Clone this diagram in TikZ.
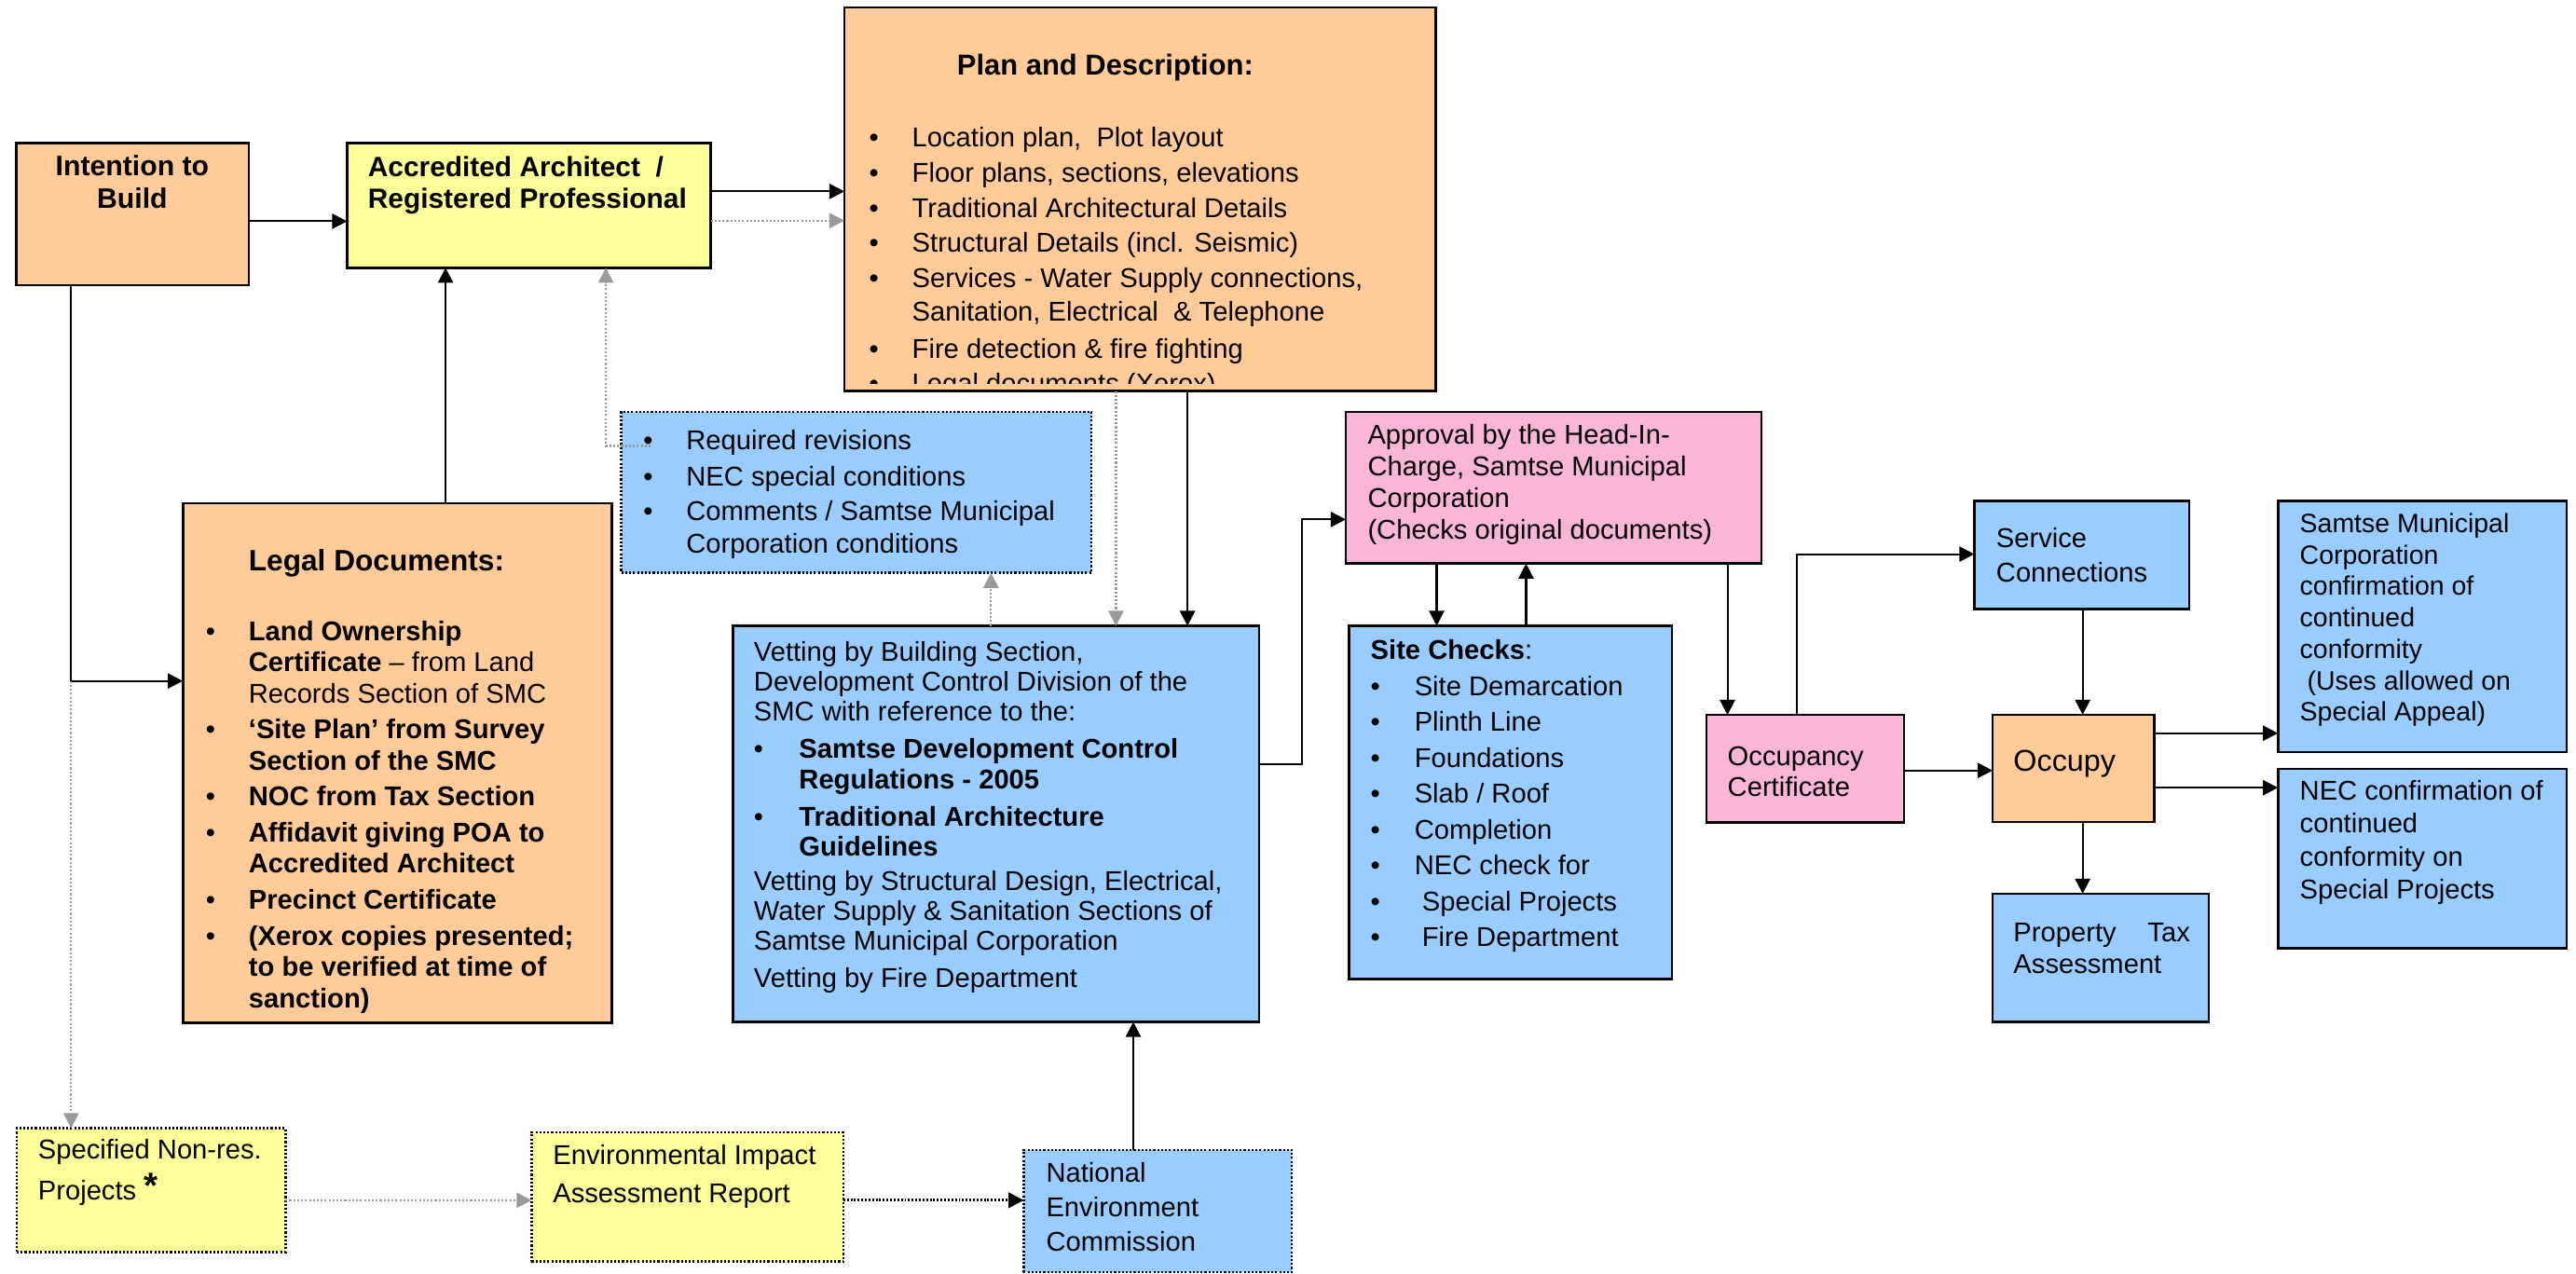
\documentclass[tikz,border=0pt]{standalone}
\usepackage{fontspec}
\setmainfont{Liberation Sans}
\usetikzlibrary{arrows.meta,fit}
\definecolor{orf}{HTML}{FFCC99}
\definecolor{yef}{HTML}{FFFF99}
\definecolor{blf}{HTML}{99CCFF}
\definecolor{pkf}{RGB}{250,182,216}
\definecolor{grl}{HTML}{9A9A9A}
\newlength\bw
\newcommand\tlines[2]{\vtop{\baselineskip=#1\relax\lineskiplimit=-20pt\relax\lineskip=0pt\relax #2}}
\newcommand\tline[1]{\hbox{#1}}
\newcommand\tbul[1]{\hbox{\hbox to\bw{\textbullet\hss}#1}}
\newcommand\tcont[1]{\hbox{\hskip\bw #1}}
\newcommand\isk[1]{\vskip#1\relax}
\begin{document}
\begin{tikzpicture}[x=0.50156pt, y=-0.50156pt,
  bx/.style={draw, line width=0.75pt, inner sep=0pt, outer sep=0pt},
  dbx/.style={draw, line width=0.75pt, dash pattern=on 0.6pt off 0.6pt, inner sep=0pt, outer sep=0pt},
  txt/.style={anchor=base west, inner sep=0pt, font=\fontsize{8.3}{10}\selectfont},
  conn/.style={line width=0.6pt, -{Triangle[length=4.6pt,width=4.6pt]}},
  plain/.style={line width=0.6pt},
  gconn/.style={draw=grl, line width=0.65pt, dash pattern=on 0.6pt off 0.6pt, -{Triangle[length=4.6pt,width=4.6pt,fill=grl]}},
  kconn/.style={line width=0.9pt, dash pattern=on 0.55pt off 0.55pt, -{Triangle[length=4.6pt,width=4.6pt]}}]
\fill[white] (0,0) rectangle (1568,775);
\useasboundingbox (0,0) rectangle (1568,775);

% ---------------- boxes
\node[bx, fill=orf, fit={(10,87) (151.5,173.5)}] (intent) {};
\node[bx, fill=yef, fit={(211.3,87) (432.6,163)}] (accr) {};
\node[bx, fill=orf, fit={(514,4.5) (874,238)}] (plan) {};
\node[dbx, fill=blf, fit={(378.2,250.7) (664.2,348.7)}] (revis) {};
\node[bx, fill=orf, fit={(111.3,306.4) (372.3,622.5)}] (legal) {};
\node[bx, fill=blf, fit={(446.2,381) (766.4,622)}] (vet) {};
\node[bx, fill=pkf, fit={(819.2,250.7) (1072.2,343)}] (appr) {};
\node[bx, fill=blf, fit={(821.2,381) (1017.8,596)}] (site) {};
\node[bx, fill=pkf, fit={(1038.6,435.2) (1158.9,500.8)}] (occc) {};
\node[bx, fill=blf, fit={(1201.8,304.9) (1332.6,370.7)}] (serv) {};
\node[bx, fill=orf, fit={(1212.9,435.1) (1311.3,500.4)}] (occupy) {};
\node[bx, fill=blf, fit={(1212.9,544) (1344.4,622)}] (ptax) {};
\node[bx, fill=blf, fit={(1386.6,304.9) (1562.4,457.8)}] (smc) {};
\node[bx, fill=blf, fit={(1386.6,468) (1562.4,577.4)}] (necc) {};
\node[dbx, fill=yef, fit={(10.2,686.8) (173.7,762)}] (spec) {};
\node[dbx, fill=yef, fit={(323.6,689.3) (513.3,768)}] (eia) {};
\node[dbx, fill=blf, fit={(623.1,700) (786.3,774.3)}] (nec) {};

% ---------------- texts
\node[txt, anchor=base, font=\fontsize{8.6}{10}\selectfont\bfseries] (intent-t) at (80.5,107)
  {\tlines{9.8pt}{\hbox to 60pt{\hss Intention to\hss}\hbox to 60pt{\hss Build\hss}}};
\node[txt, font=\fontsize{8.5}{10}\selectfont\bfseries] (accr-t) at (223.6,107.4)
  {\tlines{9.6pt}{\tline{Accredited Architect\ \ /}\tline{Registered Professional}}};
\node[txt, font=\fontsize{8.8}{10}\selectfont\bfseries] (plan-h) at (582.2,45.6) {Plan and Description:};
\begin{scope}
\clip (514,4.5) rectangle (874,233.2);
\node[txt] (plan-t) at (528.7,89.6) {\setlength\bw{13.1pt}\tlines{10.7pt}{%
  \tbul{Location plan,\ \ Plot layout}
  \tbul{Floor plans, sections, elevations}
  \tbul{Traditional Architectural Details}
  \tbul{Structural Details (incl. Seismic)}
  \tbul{Services - Water Supply connections,}
  \isk{-0.3pt}\tcont{Sanitation, Electrical\ \ \& Telephone}
  \isk{0.5pt}\tbul{Fire detection \& fire fighting}
  \tbul{Legal documents (Xerox)}}};
\end{scope}
\node[txt] (revis-t) at (391.2,273.7) {\setlength\bw{13.1pt}\tlines{10pt}{%
  \tbul{Required revisions}\isk{1.2pt}
  \tbul{NEC special conditions}\isk{0.5pt}
  \tbul{Comments / Samtse Municipal}
  \tcont{Corporation conditions}}};
\node[txt] (legal-t) at (124.9,347.7) {\setlength\bw{13.1pt}\tlines{9.5pt}{%
  \tcont{\fontsize{9}{10}\selectfont\bfseries Legal Documents:}\isk{11.7pt}
  \tbul{\bfseries Land Ownership}
  \tcont{\textbf{Certificate} – from Land}
  \tcont{Records Section of SMC}\isk{1.5pt}
  \tbul{\bfseries ‘Site Plan’ from Survey}
  \tcont{\bfseries Section of the SMC}\isk{1.5pt}
  \tbul{\bfseries NOC from Tax Section}\isk{1.5pt}
  \tbul{\bfseries Affidavit giving POA to}
  \tcont{\bfseries Accredited Architect}\isk{1.5pt}
  \tbul{\bfseries Precinct Certificate}\isk{1.5pt}
  \tbul{\bfseries (Xerox copies presented;}
  \tcont{\bfseries to be verified at time of}
  \tcont{\bfseries sanction)}}};
\node[txt] (vet-t) at (458.5,402.3) {\setlength\bw{13.8pt}\tlines{9.2pt}{%
  \tline{Vetting by Building Section,}
  \tline{Development Control Division of the}
  \tline{SMC with reference to the:}\isk{2.2pt}
  \tbul{\bfseries Samtse Development Control}
  \tcont{\bfseries Regulations - 2005}\isk{2.2pt}
  \tbul{\bfseries Traditional Architecture}
  \tcont{\bfseries Guidelines}\isk{1.2pt}
  \tline{Vetting by Structural Design, Electrical,}
  \tline{Water Supply \& Sanitation Sections of}
  \tline{Samtse Municipal Corporation}\isk{2.2pt}
  \tline{Vetting by Fire Department}}};
\node[txt] (appr-t) at (832.1,270.5) {\tlines{9.6pt}{%
  \tline{Approval by the Head-In-}
  \tline{Charge, Samtse Municipal}
  \tline{Corporation}
  \tline{(Checks original documents)}}};
\node[txt] (site-t) at (833.9,401.5) {\setlength\bw{13.4pt}\tlines{10.95pt}{%
  \tline{\textbf{Site Checks}:}
  \tbul{Site Demarcation}
  \tbul{Plinth Line}
  \tbul{Foundations}
  \tbul{Slab / Roof}
  \tbul{Completion}
  \tbul{NEC check for}
  \tbul{\ Special Projects}
  \tbul{\ Fire Department}}};
\node[txt] (occc-t) at (1051.2,466) {\tlines{9.3pt}{\tline{Occupancy}\tline{Certificate}}};
\node[txt] (serv-t) at (1214.7,333.2) {\tlines{10.6pt}{\tline{Service}\tline{Connections}}};
\node[txt, font=\fontsize{9.2}{10}\selectfont] (occupy-t) at (1225.2,469.6) {Occupy};
\node[txt] (ptax-t) at (1225.2,573.3) {\tlines{9.7pt}{\tline{Property\hskip 9.6pt Tax}\tline{Assessment}}};
\node[txt, font=\fontsize{8.1}{10}\selectfont] (smc-t) at (1399.5,324.1) {\tlines{9.6pt}{%
  \tline{Samtse Municipal}
  \tline{Corporation}
  \tline{confirmation of}
  \tline{continued}
  \tline{conformity}
  \tline{\ (Uses allowed on}
  \tline{Special Appeal)}}};
\node[txt] (necc-t) at (1399.5,487.2) {\tlines{10pt}{%
  \tline{NEC confirmation of}
  \tline{continued}
  \tline{conformity on}
  \tline{Special Projects}}};
\node[txt] (spec-t) at (22.8,705.7) {\tlines{12.3pt}{%
  \tline{Specified Non-res.}
  \tline{Projects \raisebox{0.6pt}{\fontsize{11}{11}\selectfont\bfseries *}}}};
\node[txt] (eia-t) at (336.2,709.1) {\tlines{11.4pt}{\tline{Environmental Impact}\tline{Assessment Report}}};
\node[txt] (nec-t) at (636.4,719.5) {\tlines{10.6pt}{\tline{National}\tline{Environment}\tline{Commission}}};

% ---------------- helper coordinates
\coordinate (hA) at (0,134.7);
\coordinate (hB) at (0,116.5);
\coordinate (hC) at (0,134.3);
\coordinate (vD) at (271.2,0);
\coordinate (vE) at (43.3,0);
\coordinate (hE) at (0,414.5);
\coordinate (vF) at (368.8,0);
\coordinate (revbul) at (396,271.5);
\coordinate (vG) at (603.2,0);
\coordinate (vH) at (679.3,0);
\coordinate (vI) at (722.8,0);
\coordinate (hJ) at (0,465.2);
\coordinate (vJ) at (792.3,0);
\coordinate (hJ2) at (0,316.2);
\coordinate (vK) at (874.5,0);
\coordinate (vL) at (928.9,0);
\coordinate (vM) at (1051.5,0);
\coordinate (vN) at (1093.5,0);
\coordinate (hN) at (0,337.3);
\coordinate (vO) at (1267.7,0);
\coordinate (hP) at (0,469);
\coordinate (hQ) at (0,446.3);
\coordinate (hR) at (0,479.5);
\coordinate (hS) at (0,730.6);
\coordinate (vT) at (689.8,0);

% ---------------- connectors
\draw[conn] (intent.east |- hA) -- (accr.west |- hA);
\draw[conn] (accr.east |- hB) -- (plan.west |- hB);
\draw[gconn] (accr.east |- hC) -- (plan.west |- hC);
\draw[conn] (vD |- legal.north) -- (vD |- accr.south);
\draw[plain] (vE |- intent.south) -- (vE |- hE);
\draw[conn] (vE |- hE) -- (legal.west |- hE);
\draw[gconn] (vE |- hE) -- (vE |- spec.north);
\draw[gconn] (revbul) -| (vF |- accr.south);
\draw[gconn] (vG |- vet.north) -- (vG |- revis.south);
\draw[gconn] (vH |- plan.south) -- (vH |- vet.north);
\draw[conn] (vI |- plan.south) -- (vI |- vet.north);
\draw[conn] (vet.east |- hJ) -| (vJ |- hJ2) -- (appr.west |- hJ2);
\draw[conn] (vK |- appr.south) -- (vK |- site.north);
\draw[conn] (vL |- site.north) -- (vL |- appr.south);
\draw[conn] (vM |- appr.south) -- (vM |- occc.north);
\draw[conn] (vN |- occc.north) |- (serv.west |- hN);
\draw[conn] (vO |- serv.south) -- (vO |- occupy.north);
\draw[conn] (occc.east |- hP) -- (occupy.west |- hP);
\draw[conn] (occupy.east |- hQ) -- (smc.west |- hQ);
\draw[conn] (occupy.east |- hR) -- (necc.west |- hR);
\draw[conn] (vO |- occupy.south) -- (vO |- ptax.north);
\draw[gconn] (spec.east |- hS) -- (eia.west |- hS);
\draw[kconn] (eia.east |- hS) -- (nec.west |- hS);
\draw[conn] (vT |- nec.north) -- (vT |- vet.south);
\end{tikzpicture}
\end{document}
